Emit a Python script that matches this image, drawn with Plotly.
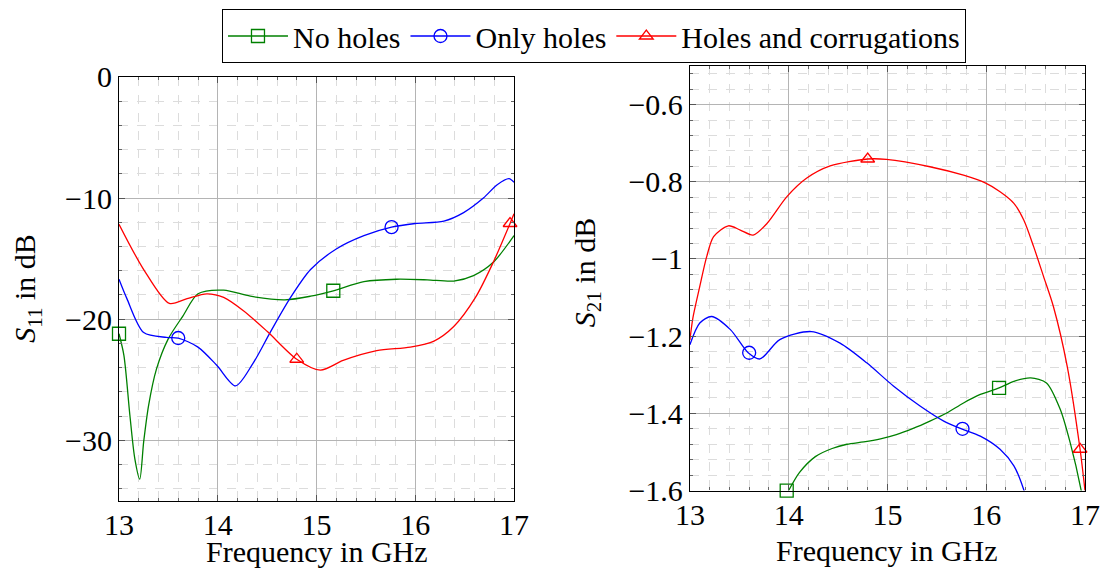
import plotly.graph_objects as go
from plotly.subplots import make_subplots

# S11 (left panel)
f_nh_11 = [13.0, 13.05, 13.11, 13.16, 13.21, 13.25, 13.3, 13.38, 13.5, 13.65, 13.8, 14.06, 14.33,
           14.68, 14.94, 15.17, 15.48, 15.81, 16.12, 16.39, 16.59, 16.79, 17.0]
s11_nh = [-21.2, -23.0, -27.9, -31.5, -33.2, -30.1, -27.1, -24.1, -21.6, -19.7, -17.9, -17.6, -18.1,
          -18.4, -18.1, -17.65, -16.9, -16.7, -16.75, -16.85, -16.4, -15.3, -13.1]
f_oh_11 = [13.0, 13.08, 13.25, 13.48, 13.6, 13.8, 13.99, 14.18, 14.36, 14.53, 14.73, 14.94, 15.2,
           15.48, 15.76, 16.0, 16.29, 16.49, 16.69, 16.83, 16.95, 17.0]
s11_oh = [-16.7, -18.3, -21.1, -21.5, -21.55, -22.3, -23.8, -25.5, -23.6, -21.1, -18.3, -15.9, -14.2,
          -13.1, -12.4, -12.1, -11.9, -11.2, -10.0, -8.9, -8.4, -8.7]
f_hc_11 = [13.0, 13.25, 13.51, 13.69, 13.89, 14.06, 14.26, 14.5, 14.8, 15.04, 15.27, 15.61, 15.95,
           16.19, 16.39, 16.61, 16.79, 16.96, 17.0]
s11_hc = [-12.16, -15.9, -18.7, -18.3, -17.9, -18.2, -19.3, -21.0, -23.3, -24.2, -23.4, -22.6, -22.3,
          -21.8, -20.6, -18.2, -15.3, -12.1, -11.3]

# S21 (right panel)
f_nh_21 = [14.0, 14.11, 14.27, 14.44, 14.59, 14.76, 14.93, 15.09, 15.26, 15.43, 15.6, 15.77, 15.94,
           16.13, 16.28, 16.45, 16.61, 16.75, 16.85, 16.96, 17.0]
s21_nh = [-1.6, -1.553, -1.512, -1.491, -1.48, -1.474, -1.466, -1.455, -1.439, -1.42, -1.399, -1.373,
          -1.351, -1.334, -1.317, -1.308, -1.321, -1.39, -1.476, -1.598, -1.66]
f_oh_21 = [13.0, 13.1, 13.22, 13.41, 13.59, 13.71, 13.91, 14.23, 14.52, 14.79, 15.06, 15.33, 15.57,
           15.75, 15.94, 16.14, 16.28, 16.38, 16.5]
s21_oh = [-1.222, -1.166, -1.149, -1.183, -1.243, -1.259, -1.209, -1.188, -1.218, -1.269, -1.329,
          -1.381, -1.42, -1.44, -1.459, -1.493, -1.536, -1.598, -1.72]
f_hc_21 = [13.0, 13.03, 13.1, 13.17, 13.24, 13.39, 13.51, 13.64, 13.78, 13.98, 14.18, 14.42, 14.8,
           14.99, 15.43, 15.77, 15.99, 16.14, 16.28, 16.38, 16.48, 16.58, 16.68, 16.82, 16.95, 17.0]
s21_hc = [-1.21, -1.153, -1.071, -0.994, -0.942, -0.914, -0.925, -0.938, -0.908, -0.839, -0.791,
          -0.759, -0.741, -0.742, -0.761, -0.783, -0.803, -0.826, -0.856, -0.899, -0.968, -1.045,
          -1.123, -1.278, -1.493, -1.6]

# mark positions (every n-th sample in the original)
mk_nh_11 = ([13.0, 15.17], [-21.2, -17.65])
mk_oh_11 = ([13.6, 15.76], [-21.55, -12.4])
mk_hc_11 = ([14.8, 16.96], [-23.3, -12.1])
mk_nh_21 = ([13.98, 16.13], [-1.6, -1.334])
mk_oh_21 = ([13.6, 15.76], [-1.243, -1.44])
mk_hc_21 = ([14.8, 16.95], [-0.741, -1.493])

names = ["No holes", "Only holes", "Holes and corrugations"]
colors = ["#008000", "#0000ff", "#ff0000"]
symbols = ["square-open", "circle-open", "triangle-up-open"]
sizes = [13, 13, 12]

FONT = "Liberation Serif"
FS = 30

fig = make_subplots(rows=1, cols=2)

series = [
    (1, [(f_nh_11, s11_nh, mk_nh_11), (f_oh_11, s11_oh, mk_oh_11), (f_hc_11, s11_hc, mk_hc_11)]),
    (2, [(f_nh_21, s21_nh, mk_nh_21), (f_oh_21, s21_oh, mk_oh_21), (f_hc_21, s21_hc, mk_hc_21)]),
]
for col, lst in series:
    for i, (fx, fy, mk) in enumerate(lst):
        fig.add_trace(go.Scatter(x=fx, y=fy, mode="lines", line=dict(color=colors[i], width=1.3, shape="spline", smoothing=0.8),
                                 showlegend=False, hoverinfo="skip"), row=1, col=col)
        fig.add_trace(go.Scatter(x=mk[0], y=mk[1], mode="markers", cliponaxis=False,
                                 marker=dict(symbol=symbols[i], size=sizes[i], color=colors[i], line=dict(width=1.3, color=colors[i])),
                                 showlegend=False), row=1, col=col)

# legend entries
for i in range(3):
    fig.add_trace(go.Scatter(x=[None], y=[None], mode="lines+markers", name=names[i],
                             line=dict(color=colors[i], width=1.3),
                             marker=dict(symbol=symbols[i], size=sizes[i], color=colors[i], line=dict(width=1.3, color=colors[i]))),
                  row=1, col=1)

ax_common = dict(showline=True, linecolor="black", linewidth=1.2, mirror="ticks", automargin=False,
                 ticks="inside", ticklen=6, tickcolor="#555", tickwidth=1, ticklabeloverflow="allow",
                 showgrid=True, gridcolor="#b4b4b4", gridwidth=1, zeroline=False,
                 tickfont=dict(family=FONT, size=FS, color="black"))

fig.update_xaxes(**ax_common, range=[13, 17], dtick=1, ticklabelstandoff=-3,
                 minor=dict(dtick=0.2, ticks="inside", ticklen=3, tickcolor="#666", showgrid=True,
                            gridcolor="#dcdcdc", griddash="dash"))
fig.update_xaxes(domain=[0, 0.4089], row=1, col=1)
fig.update_xaxes(domain=[0.591, 1], row=1, col=2)

fig.update_yaxes(**ax_common, row=1, col=1, range=[-35, 0], dtick=10, domain=[0, 0.975],
                 minor=dict(dtick=2, ticks="inside", ticklen=3, tickcolor="#666", showgrid=True,
                            gridcolor="#dcdcdc", griddash="dash"))
fig.update_yaxes(**ax_common, row=1, col=2, range=[-1.6, -0.5], dtick=0.2, tick0=0, domain=[0.024, 1],
                 minor=dict(dtick=0.04, tick0=0, ticks="inside", ticklen=3, tickcolor="#666", showgrid=True,
                            gridcolor="#dcdcdc", griddash="dash"))

# axis titles
title_font = dict(family=FONT, size=FS, color="black")
fig.add_annotation(text="Frequency in GHz", xref="paper", yref="paper", x=0.2047, y=-0.1596,
                   showarrow=False, xanchor="center", yanchor="bottom", font=title_font)
fig.add_annotation(text="Frequency in GHz", xref="paper", yref="paper", x=0.7947, y=-0.1137,
                   showarrow=False, xanchor="center", yanchor="middle", font=title_font)
fig.add_annotation(text="<i>S</i><sub>11</sub> in dB", xref="paper", yref="paper", x=-0.0952, y=0.488,
                   showarrow=False, xanchor="center", yanchor="middle", textangle=-90, font=title_font)
fig.add_annotation(text="<i>S</i><sub>21</sub> in dB", xref="paper", yref="paper", x=0.4839, y=0.5247,
                   showarrow=False, xanchor="center", yanchor="middle", textangle=-90, font=title_font)

# page body has an 8px margin, so the figure is 16px smaller than the window
fig.update_layout(
    width=1092, height=563,
    margin=dict(l=111, r=15, t=58, b=69.5, autoexpand=False),
    plot_bgcolor="white", paper_bgcolor="white",
    font=dict(family=FONT, size=FS, color="black"),
    legend=dict(orientation="h", x=0.4917, xanchor="center", y=1.131, yanchor="top",
                bordercolor="black", borderwidth=1, bgcolor="white",
                font=dict(family=FONT, size=FS), itemwidth=60, tracegroupgap=0),
)

fig.write_html("out.html")
